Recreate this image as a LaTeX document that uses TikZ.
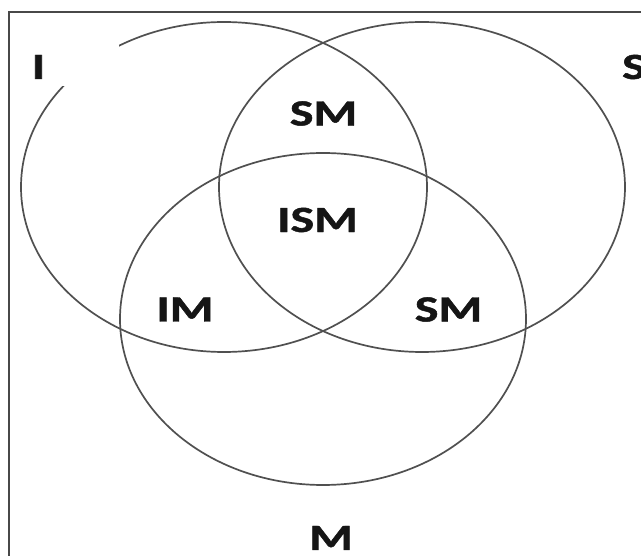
\documentclass[tikz,border=0pt]{standalone}
\usepackage{fontspec}
\setmainfont{Carlito}
\newfontfamily\labfont{Carlito}[BoldFeatures={FakeBold=1.2}]
\definecolor{linegray}{HTML}{505050}
\definecolor{textdark}{HTML}{151515}
\tikzset{
  setline/.style={draw=linegray, line width=1.7pt},
  frameline/.style={draw=linegray!90!black, line width=2pt},
  lab/.style={font=\labfont\fontsize{37}{37}\selectfont\bfseries, text=textdark, inner sep=0pt, xscale=1.35}
}
\begin{document}
\begin{tikzpicture}[x=1pt,y=-1pt]
\useasboundingbox (0,0) rectangle (641,556);
\fill[white] (0,0) rectangle (641,556);
% frame (top and left edges)
\draw[frameline] (9,556) -- (9,12) -- (641,12);
% three sets
\draw[setline] (224,187) ellipse [x radius=203pt, y radius=165pt];
\draw[setline] (422,187) ellipse [x radius=203pt, y radius=165pt];
\draw[setline] (323,319) ellipse [x radius=203pt, y radius=166pt];
% white patch over the left set's outline
\fill[white] (50,30) rectangle (119,86);
% labels
\node[lab] (lI) at (38.5,67) {I};
\node[lab] (lS) at (634,67) {S};
\node[lab] (lSMt) at (323.5,113.5) {SM};
\node[lab] (lISM) at (317.5,220) {ISM};
\node[lab] (lIM) at (185,309.5) {IM};
\node[lab] (lSMr) at (448.5,309.5) {SM};
\node[lab] (lM) at (331,538) {M};
\end{tikzpicture}
\end{document}
